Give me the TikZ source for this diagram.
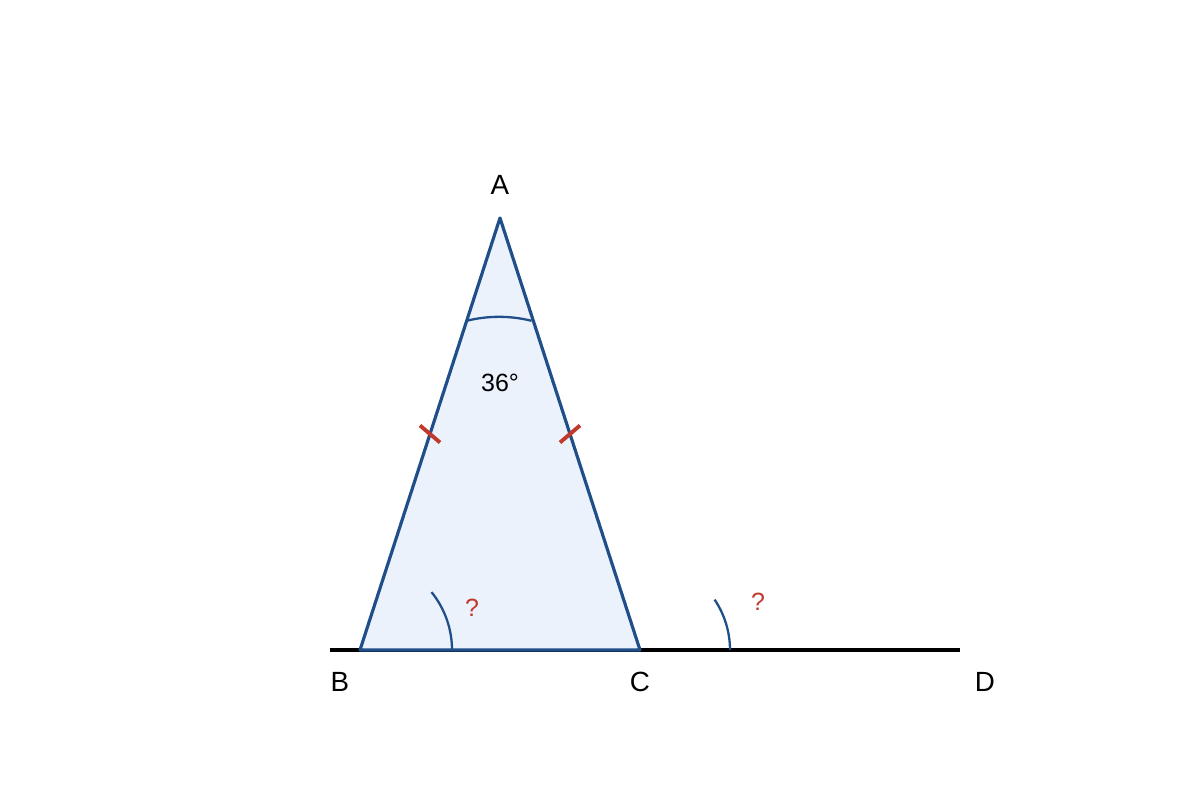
\documentclass[tikz,border=0pt]{standalone}
\usepackage{fontspec}
\setmainfont{Liberation Sans}
\usetikzlibrary{positioning}
\usetikzlibrary{calc}
\definecolor{edgeblue}{RGB}{31,78,137}
\definecolor{fillblue}{RGB}{235,242,251}
\definecolor{markred}{RGB}{192,57,43}

\tikzset{
    ptlabel/.style={font=\fontsize{7.9}{9}\selectfont},
    anglabel/.style={font=\fontsize{7.1}{8}\selectfont},
    anglearc/.style={edgeblue, line width=0.65pt},
    tickmark/.style={markred, line width=1.1pt}
}

\begin{document}
\begin{tikzpicture}
        \useasboundingbox (0,0) rectangle (12,8);
        \coordinate (A) at (5.00,5.82);
        \coordinate (B) at (3.60,1.50);
        \coordinate (C) at (6.40,1.50);
        \coordinate (L) at (3.30,1.50);
        \coordinate (D) at (9.60,1.50);

        \draw[line width=0.9pt] (L) -- (D);
        \filldraw[fill=fillblue, draw=edgeblue, line width=0.9pt, line join=round] (A) -- (B) -- (C) -- cycle;

        % angle at A
        \coordinate (a1) at ($(A)!0.238!(B)$);
        \draw[anglearc] (a1) arc[start angle=104, end angle=76, radius=1.34];

        % angles at B and C
        \draw[anglearc] ($(B)+(0.92,0)$) arc[start angle=0, end angle=39, radius=0.92];
        \draw[anglearc] ($(C)+(0.90,0)$) arc[start angle=0, end angle=34, radius=0.90];

        % equal sides
        \coordinate (mAB) at ($(A)!0.5!(B)$);
        \coordinate (mAC) at ($(A)!0.5!(C)$);
        \draw[tickmark] ($(mAB)+(-0.10,0.085)$) -- ($(mAB)+(0.10,-0.085)$);
        \draw[tickmark] ($(mAC)+(-0.10,-0.085)$) -- ($(mAC)+(0.10,0.085)$);

        \node[ptlabel] (labA) at (5.00,6.15) {A};
        \node[ptlabel] (labB) at (3.40,1.18) {B};
        \node[ptlabel] (labC) at (6.40,1.18) {C};
        \node[ptlabel] (labD) at (9.85,1.18) {D};
        \node[anglabel] (top) at (5.00,4.17) {36°};
        \node[anglabel, markred] (qB) at (4.72,1.92) {?};
        \node[anglabel, markred] (qC) at (7.58,1.98) {?};
    \end{tikzpicture}
\end{document}
